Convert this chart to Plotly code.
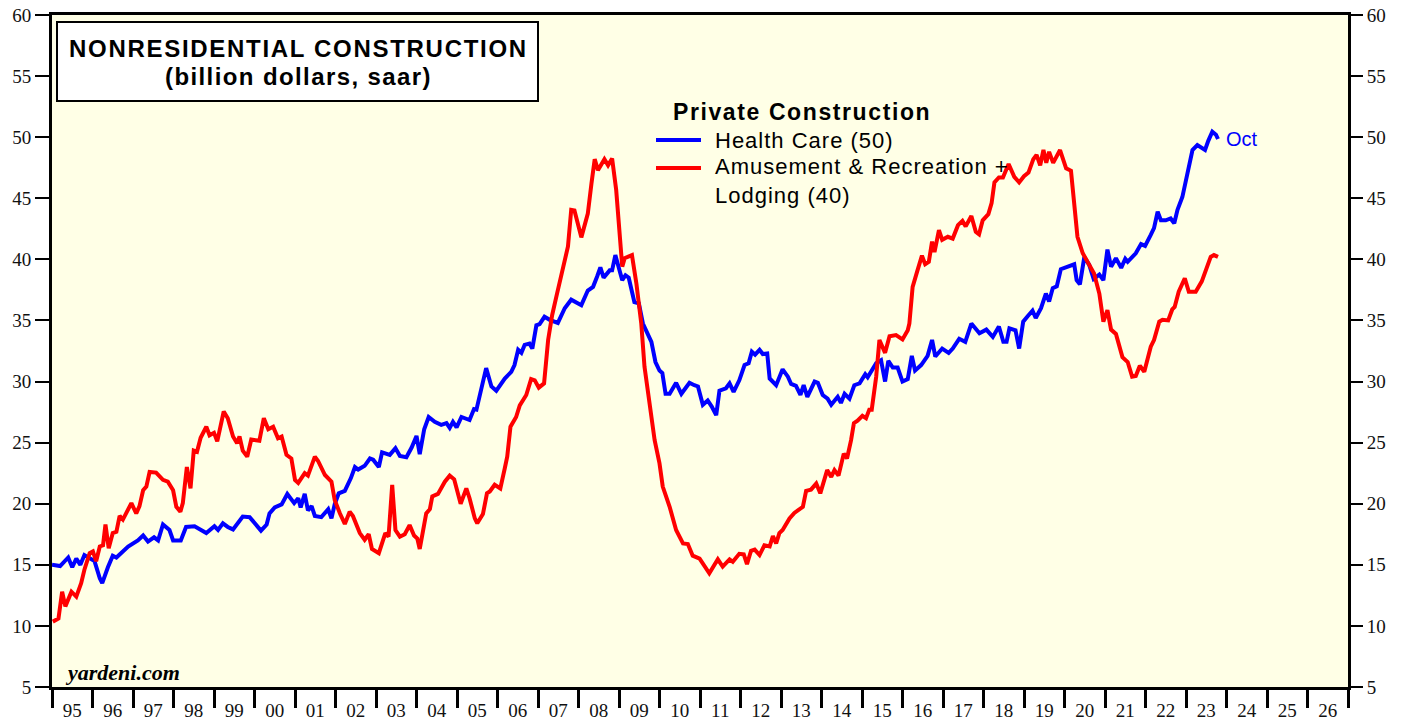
import plotly.graph_objects as go

# ---- data (decimal years, billion dollars saar) ----
health_x = [1995.0, 1995.2, 1995.4, 1995.5, 1995.6, 1995.7, 1995.8, 1996.0, 1996.05, 1996.18, 1996.24,
            1996.38, 1996.5, 1996.59, 1996.88, 1997.12, 1997.25, 1997.37, 1997.52, 1997.62, 1997.74,
            1997.9, 1997.99, 1998.18, 1998.31, 1998.52, 1998.81, 1999.01, 1999.1, 1999.22, 1999.34,
            1999.47, 1999.71, 1999.88, 2000.04, 2000.16, 2000.3, 2000.37, 2000.5, 2000.67, 2000.81,
            2000.98, 2001.08, 2001.14, 2001.24, 2001.32, 2001.41, 2001.49, 2001.65, 2001.82, 2001.9,
            2001.98, 2002.08, 2002.23, 2002.38, 2002.48, 2002.56, 2002.72, 2002.85, 2002.93, 2003.07,
            2003.15, 2003.34, 2003.48, 2003.59, 2003.75, 2003.88, 2004.0, 2004.08, 2004.19, 2004.3,
            2004.45, 2004.61, 2004.74, 2004.82, 2004.9, 2004.99, 2005.11, 2005.31, 2005.42, 2005.48,
            2005.58, 2005.72, 2005.85, 2005.97, 2006.18, 2006.34, 2006.42, 2006.51, 2006.59, 2006.67,
            2006.79, 2006.86, 2006.96, 2007.04, 2007.16, 2007.29, 2007.49, 2007.66, 2007.82, 2008.07,
            2008.23, 2008.36, 2008.46, 2008.54, 2008.62, 2008.77, 2008.83, 2008.91, 2009.0, 2009.08,
            2009.16, 2009.24, 2009.38, 2009.49, 2009.59, 2009.67, 2009.8, 2009.9, 2010.0, 2010.07,
            2010.15, 2010.25, 2010.41, 2010.54, 2010.74, 2010.86, 2010.95, 2011.07, 2011.19, 2011.29,
            2011.4, 2011.48, 2011.64, 2011.73, 2011.83, 2011.97, 2012.1, 2012.2, 2012.28, 2012.36,
            2012.47, 2012.55, 2012.66, 2012.72, 2012.88, 2013.04, 2013.17, 2013.25, 2013.37, 2013.48,
            2013.56, 2013.65, 2013.83, 2013.91, 2014.03, 2014.15, 2014.24, 2014.4, 2014.48, 2014.57,
            2014.69, 2014.81, 2014.94, 2015.08, 2015.14, 2015.35, 2015.47, 2015.57, 2015.65, 2015.76,
            2015.88, 2016.0, 2016.13, 2016.23, 2016.31, 2016.46, 2016.62, 2016.73, 2016.81, 2016.98,
            2017.14, 2017.24, 2017.4, 2017.55, 2017.7, 2017.9, 2018.07, 2018.23, 2018.38, 2018.49,
            2018.57, 2018.64, 2018.79, 2018.88, 2018.98, 2019.09, 2019.21, 2019.29, 2019.42, 2019.54,
            2019.62, 2019.71, 2019.81, 2019.91, 2020.08, 2020.24, 2020.3, 2020.38, 2020.49, 2020.61,
            2020.72, 2020.86, 2020.96, 2021.06, 2021.15, 2021.27, 2021.4, 2021.5, 2021.56, 2021.76,
            2021.89, 2021.99, 2022.13, 2022.21, 2022.3, 2022.38, 2022.5, 2022.62, 2022.71, 2022.79,
            2022.91, 2023.04, 2023.16, 2023.28, 2023.47, 2023.55, 2023.65, 2023.74, 2023.79]
health_y = [15.0, 14.9, 15.6, 14.8, 15.5, 15.0, 15.8, 15.4, 15.3, 13.9, 13.5,
            14.8, 15.75, 15.6, 16.5, 17.0, 17.4, 16.9, 17.25, 17.0, 18.3,
            17.85, 17.0, 17.0, 18.1, 18.15, 17.6, 18.15, 17.85, 18.4, 18.1,
            17.9, 18.95, 18.9, 18.25, 17.8, 18.3, 19.2, 19.7, 19.95, 20.8,
            20.05, 20.45, 19.7, 20.8, 19.45, 19.8, 19.0, 18.9, 19.55, 18.8,
            19.95, 20.85, 21.05, 22.1, 23.0, 22.8, 23.1, 23.7, 23.6, 23.0,
            24.2, 24.0, 24.55, 23.9, 23.8, 24.6, 25.55, 24.05, 26.1, 27.1,
            26.7, 26.45, 26.6, 26.2, 26.7, 26.25, 27.1, 26.85, 27.75, 27.7,
            29.0, 31.1, 29.6, 29.25, 30.25, 30.8, 31.35, 32.6, 32.35, 33.0,
            33.1, 32.7, 34.6, 34.7, 35.3, 35.05, 34.8, 36.0, 36.7, 36.25,
            37.45, 37.75, 38.6, 39.35, 38.5, 39.1, 39.1, 40.35, 39.25, 38.3,
            38.7, 38.5, 36.5, 36.4, 34.75, 34.1, 33.25, 31.6, 30.9, 30.7,
            29.0, 29.0, 29.9, 29.0, 29.9, 29.7, 29.6, 28.1, 28.45, 27.95,
            27.25, 29.25, 29.45, 29.85, 29.15, 30.1, 31.35, 31.5, 32.45, 32.2,
            32.6, 32.25, 32.3, 30.25, 29.7, 31.0, 30.4, 29.8, 29.65, 28.9,
            29.7, 28.75, 30.0, 29.9, 28.9, 28.6, 28.1, 28.75, 28.25, 29.0,
            28.6, 29.7, 29.85, 30.6, 30.35, 31.5, 31.75, 30.0, 31.7, 31.15,
            31.15, 30.0, 30.2, 32.1, 30.9, 31.35, 32.1, 33.4, 32.05, 32.7,
            32.35, 32.7, 33.5, 33.25, 34.75, 33.95, 34.25, 33.65, 34.5, 33.25,
            33.25, 34.35, 34.2, 32.7, 34.9, 35.35, 35.8, 35.2, 36.0, 37.2,
            36.55, 37.65, 37.8, 39.2, 39.45, 39.6, 38.3, 37.95, 40.2, 39.55,
            38.4, 38.75, 38.3, 40.8, 39.4, 40.1, 39.3, 40.05, 39.8, 40.5,
            41.25, 41.1, 42.0, 42.55, 43.9, 43.2, 43.2, 43.35, 42.95, 44.05,
            45.1, 47.3, 48.95, 49.35, 48.95, 49.7, 50.45, 50.2, 49.85]

amuse_x = [1995.02, 1995.16, 1995.25, 1995.33, 1995.48, 1995.6, 1995.72, 1995.8, 1995.93, 1996.01, 1996.09,
           1996.18, 1996.26, 1996.32, 1996.4, 1996.5, 1996.59, 1996.67, 1996.75, 1996.96, 1997.08,
           1997.16, 1997.25, 1997.33, 1997.41, 1997.57, 1997.74, 1997.86, 1997.99, 1998.07, 1998.17,
           1998.23, 1998.33, 1998.42, 1998.5, 1998.58, 1998.67, 1998.81, 1998.89, 1999.0, 1999.08,
           1999.18, 1999.24, 1999.34, 1999.47, 1999.57, 1999.63, 1999.71, 1999.82, 1999.92, 2000.12,
           2000.23, 2000.34, 2000.46, 2000.58, 2000.67, 2000.79, 2000.91, 2001.0, 2001.08, 2001.24,
           2001.32, 2001.49, 2001.57, 2001.74, 2001.9, 2001.98, 2002.11, 2002.23, 2002.35, 2002.43,
           2002.6, 2002.72, 2002.82, 2002.9, 2003.07, 2003.23, 2003.31, 2003.4, 2003.48, 2003.59,
           2003.71, 2003.83, 2003.94, 2004.02, 2004.08, 2004.24, 2004.33, 2004.39, 2004.53, 2004.7,
           2004.82, 2004.93, 2005.09, 2005.23, 2005.31, 2005.44, 2005.5, 2005.64, 2005.74, 2005.81,
           2005.93, 2006.07, 2006.18, 2006.24, 2006.32, 2006.46, 2006.55, 2006.71, 2006.83, 2006.92,
           2007.02, 2007.15, 2007.25, 2007.35, 2007.47, 2007.62, 2007.74, 2007.82, 2007.9, 2008.07,
           2008.23, 2008.32, 2008.4, 2008.48, 2008.64, 2008.73, 2008.83, 2008.93, 2009.0, 2009.08,
           2009.14, 2009.32, 2009.43, 2009.55, 2009.63, 2009.75, 2009.88, 2010.0, 2010.08, 2010.25,
           2010.41, 2010.58, 2010.7, 2010.82, 2010.99, 2011.23, 2011.44, 2011.56, 2011.73, 2011.81,
           2011.97, 2012.08, 2012.16, 2012.26, 2012.35, 2012.47, 2012.59, 2012.72, 2012.8, 2012.88,
           2012.96, 2013.04, 2013.21, 2013.33, 2013.54, 2013.62, 2013.74, 2013.87, 2013.97, 2014.14,
           2014.24, 2014.32, 2014.42, 2014.55, 2014.63, 2014.73, 2014.8, 2014.89, 2015.01, 2015.1,
           2015.18, 2015.24, 2015.35, 2015.43, 2015.57, 2015.68, 2015.84, 2016.0, 2016.13, 2016.17,
           2016.25, 2016.37, 2016.48, 2016.56, 2016.65, 2016.73, 2016.79, 2016.9, 2016.98, 2017.12,
           2017.24, 2017.37, 2017.48, 2017.56, 2017.7, 2017.81, 2017.89, 2017.98, 2018.12, 2018.2,
           2018.27, 2018.38, 2018.48, 2018.62, 2018.76, 2018.88, 2019.0, 2019.11, 2019.23, 2019.31,
           2019.4, 2019.48, 2019.55, 2019.62, 2019.72, 2019.89, 2020.04, 2020.16, 2020.24, 2020.32,
           2020.45, 2020.57, 2020.73, 2020.86, 2020.96, 2021.06, 2021.15, 2021.27, 2021.43, 2021.56,
           2021.67, 2021.76, 2021.86, 2021.97, 2022.13, 2022.21, 2022.34, 2022.42, 2022.56, 2022.66,
           2022.72, 2022.82, 2022.97, 2023.07, 2023.24, 2023.39, 2023.47, 2023.61, 2023.69, 2023.79]
amuse_y = [10.35, 10.6, 12.8, 11.6, 12.8, 12.4, 13.5, 14.6, 15.95, 16.1, 15.3,
           16.5, 16.6, 18.3, 16.35, 17.6, 17.7, 19.0, 18.7, 20.05, 19.2,
           19.8, 21.1, 21.4, 22.6, 22.55, 21.95, 21.8, 21.1, 19.75, 19.35,
           20.05, 23.0, 21.25, 24.35, 24.25, 25.4, 26.3, 25.6, 25.8, 25.1,
           26.85, 27.55, 27.0, 25.5, 24.95, 25.5, 24.35, 23.85, 25.25, 25.15,
           27.0, 26.1, 26.3, 25.35, 25.5, 24.0, 23.7, 21.95, 21.7, 22.5,
           22.3, 23.85, 23.5, 22.35, 21.8, 20.3, 19.2, 18.35, 19.35, 19.0,
           17.6, 17.05, 17.5, 16.3, 15.95, 17.6, 17.3, 21.55, 17.85, 17.3,
           17.5, 18.25, 17.4, 17.15, 16.3, 19.2, 19.55, 20.6, 20.8, 21.8,
           22.3, 22.0, 20.0, 21.25, 20.45, 18.8, 18.4, 19.15, 20.85, 21.0,
           21.55, 21.25, 22.9, 23.85, 26.3, 27.1, 28.05, 28.9, 30.2, 30.1,
           29.5, 29.85, 33.4, 35.45, 37.2, 39.25, 41.05, 44.05, 44.0, 41.8,
           43.75, 46.2, 48.2, 47.3, 48.2, 47.7, 48.25, 45.7, 42.4, 39.4,
           40.1, 40.35, 38.0, 34.75, 31.2, 28.45, 25.2, 23.3, 21.4, 19.75,
           17.85, 16.75, 16.7, 15.75, 15.5, 14.3, 15.45, 14.85, 15.45, 15.25,
           15.9, 15.85, 15.05, 16.15, 16.25, 15.8, 16.6, 16.5, 17.35, 16.75,
           17.6, 17.85, 18.8, 19.25, 19.75, 21.05, 21.15, 21.65, 20.85, 22.75,
           22.2, 22.75, 22.3, 24.1, 23.7, 25.2, 26.6, 26.8, 27.2, 27.0,
           27.7, 27.7, 30.4, 33.4, 32.35, 33.7, 33.8, 33.45, 34.2, 34.75,
           37.75, 39.1, 40.3, 39.6, 39.8, 41.45, 40.6, 42.4, 41.6, 41.85,
           41.7, 42.8, 43.15, 42.7, 43.55, 42.25, 42.05, 43.2, 43.7, 44.6,
           46.3, 46.7, 46.7, 47.8, 46.75, 46.3, 46.8, 47.1, 48.2, 48.55,
           47.7, 48.95, 47.9, 48.8, 47.9, 48.95, 47.45, 47.25, 44.3, 41.85,
           40.5, 39.8, 38.85, 37.2, 34.9, 35.85, 34.25, 33.9, 32.0, 31.6,
           30.4, 30.45, 31.3, 30.8, 32.85, 33.4, 34.9, 35.05, 35.0, 35.9,
           36.1, 37.35, 38.45, 37.35, 37.35, 38.2, 38.85, 40.2, 40.35, 40.2]

year_ticks = list(range(1995, 2027))
year_labels = [str(y)[-2:] for y in year_ticks]
y_ticks = list(range(5, 61, 5))

series_names = ["Health Care (50)", "Amusement & Recreation +<br>Lodging (40)"]
series_colors = ["#0000FF", "#FF0000"]

# ---- layout geometry (figure pixels; the page body adds an 8px offset) ----
W, H = 1400, 711
L, R, T, B = 44, 1340, 7, 679
def px(x):
    return (x - 8 - L) / (R - L)   # x given in screen pixels
def py(y):
    return (B - (y - 8)) / (B - T)  # y given in screen pixels

def spaced(txt, sp):
    return '<span style="letter-spacing:%spx">%s</span>' % (sp, txt)

fig = go.Figure()
fig.add_trace(go.Scatter(x=health_x, y=health_y, mode="lines", name=series_names[0],
                         line=dict(color=series_colors[0], width=4), showlegend=False))
fig.add_trace(go.Scatter(x=amuse_x, y=amuse_y, mode="lines", name=series_names[1],
                         line=dict(color=series_colors[1], width=4), showlegend=False))
# invisible trace to anchor right axis
fig.add_trace(go.Scatter(x=[None], y=[None], yaxis="y2", showlegend=False, hoverinfo="skip"))

tickfont = dict(family="Liberation Serif", size=19, color="#111111")

fig.update_layout(
    width=W, height=H,
    margin=dict(l=L, r=W - R, t=T, b=H - B, autoexpand=False),
    paper_bgcolor="white",
    plot_bgcolor="#FFFFE6",
    xaxis=dict(range=[1995, 2027], showgrid=False, zeroline=False, automargin=False,
               tickmode="array", tickvals=[y + 0.5 for y in year_ticks], ticktext=year_labels,
               ticks="outside", ticklen=4, tickcolor="rgba(0,0,0,0)", tickfont=tickfont,
               ticklabeloverflow="allow",
               showline=True, linecolor="black", linewidth=3, mirror=True,
               minor=dict(ticks="outside", tick0=1995, dtick=1, ticklen=18, tickwidth=3,
                          tickcolor="black", showgrid=False)),
    yaxis=dict(range=[5, 60], tickmode="array", tickvals=y_ticks, showgrid=False, zeroline=False,
               automargin=False, ticklabeloverflow="allow",
               ticks="outside", ticklen=14, tickwidth=2, tickcolor="black", tickfont=tickfont,
               showline=True, linecolor="black", linewidth=3, mirror=True),
    yaxis2=dict(range=[5, 60], tickmode="array", tickvals=y_ticks, overlaying="y", side="right",
                automargin=False, ticklabeloverflow="allow",
                showgrid=False, zeroline=False, ticks="outside", ticklen=14, tickwidth=2,
                tickcolor="black", tickfont=tickfont, showline=False),
    showlegend=False,
)

ann_font = "Liberation Sans"

# title box
fig.add_shape(type="rect", xref="paper", yref="paper", x0=px(57), x1=px(538), y0=py(101), y1=py(22),
              line=dict(color="black", width=2), fillcolor="white", layer="above")
fig.add_annotation(xref="paper", yref="paper", x=px(298), y=py(48), xanchor="center", yanchor="middle",
                   text="<b>" + spaced("NONRESIDENTIAL CONSTRUCTION", 1.7) + "</b>", showarrow=False,
                   font=dict(family=ann_font, size=24, color="black"))
fig.add_annotation(xref="paper", yref="paper", x=px(298), y=py(76), xanchor="center", yanchor="middle",
                   text="<b>" + spaced("(billion dollars, saar)", 1.4) + "</b>", showarrow=False,
                   font=dict(family=ann_font, size=24, color="black"))

# legend
fig.add_annotation(xref="paper", yref="paper", x=px(671), y=py(112), xanchor="left", yanchor="middle",
                   text="<b>" + spaced("Private Construction", 1.6) + "</b>", showarrow=False,
                   font=dict(family=ann_font, size=23, color="black"))
fig.add_shape(type="line", xref="paper", yref="paper", x0=px(656), x1=px(701), y0=py(140), y1=py(140),
              line=dict(color=series_colors[0], width=4))
fig.add_shape(type="line", xref="paper", yref="paper", x0=px(656), x1=px(701), y0=py(168), y1=py(168),
              line=dict(color=series_colors[1], width=4))
fig.add_annotation(xref="paper", yref="paper", x=px(713), y=py(140), xanchor="left", yanchor="middle",
                   text=spaced(series_names[0], 1.0), showarrow=False,
                   font=dict(family=ann_font, size=22, color="black"))
fig.add_annotation(xref="paper", yref="paper", x=px(713), y=py(181), xanchor="left", yanchor="middle",
                   align="left", text=spaced("Amusement & Recreation +", 1.0) + "<br>" + spaced("Lodging (40)", 1.0),
                   showarrow=False, font=dict(family=ann_font, size=22, color="black"))

# last point label
fig.add_annotation(x=health_x[-1], y=health_y[-1], xanchor="left", yanchor="middle", xshift=6, text="Oct",
                   showarrow=False, font=dict(family=ann_font, size=20, color=series_colors[0]))

# source
fig.add_annotation(xref="paper", yref="paper", x=px(63), y=py(672), xanchor="left", yanchor="middle",
                   text="<b><i>yardeni.com</i></b>", showarrow=False,
                   font=dict(family="Liberation Serif", size=22, color="black"))

fig.write_html("out.html")
